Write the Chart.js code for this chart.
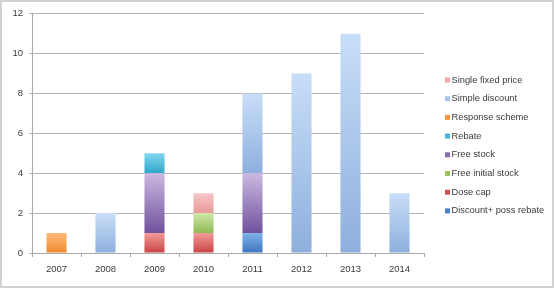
<!DOCTYPE html>
<html>
<head>
<meta charset="utf-8">
<script src="https://cdn.jsdelivr.net/npm/chart.js@4.4.0/dist/chart.umd.min.js"></script>
<style>
  html, body { margin: 0; padding: 0; background: #fff; }
  #wrap { width: 554px; height: 288px; box-sizing: border-box; border: 2px solid #d2d2d2; background: #fff; }
  #mycanvas { display: block; }
</style>
</head>
<body>
<div id="wrap"><canvas id="mycanvas" width="550" height="284"></canvas></div>
<script>
// categories
var years = ['2007', '2008', '2009', '2010', '2011', '2012', '2013', '2014'];

// series values, bottom of stack first
var discountPossRebate = [0, 0, 0, 0, 1, 0, 0, 0];
var doseCap            = [0, 0, 1, 1, 0, 0, 0, 0];
var freeInitialStock   = [0, 0, 0, 1, 0, 0, 0, 0];
var freeStock          = [0, 0, 3, 0, 3, 0, 0, 0];
var rebate             = [0, 0, 1, 0, 0, 0, 0, 0];
var responseScheme     = [1, 0, 0, 0, 0, 0, 0, 0];
var simpleDiscount     = [0, 2, 0, 0, 4, 9, 11, 3];
var singleFixedPrice   = [0, 0, 0, 1, 0, 0, 0, 0];

// y tick labels
var yTicks = [0, 2, 4, 6, 8, 10, 12];

var seriesNames = ['Discount+ poss rebate', 'Dose cap', 'Free initial stock', 'Free stock',
                   'Rebate', 'Response scheme', 'Simple discount', 'Single fixed price'];
var seriesData = [discountPossRebate, doseCap, freeInitialStock, freeStock,
                  rebate, responseScheme, simpleDiscount, singleFixedPrice];
// [top, bottom, legend swatch]
var seriesColors = [
  ['#80b3ea', '#3d74bd', '#4a80c8'],
  ['#f29c9a', '#c94242', '#d65050'],
  ['#d0e7a8', '#8fba52', '#9cc45e'],
  ['#cbb9e2', '#70529c', '#8a6cb4'],
  ['#80d8ee', '#30a6ca', '#42b6d8'],
  ['#ffba7a', '#f08a2e', '#f7953c'],
  ['#c8def8', '#8eafdd', '#a6c4ec'],
  ['#f8c6c6', '#e89898', '#f0a8a8']
];

function gradFor(i) {
  return function(c) {
    var chart = c.chart;
    var ys = chart.scales.y;
    if (c.type !== 'data' || !ys) return seriesColors[i][1];
    var start = 0;
    for (var d = 0; d < c.datasetIndex; d++) start += chart.data.datasets[d].data[c.dataIndex] || 0;
    var v = c.raw || 0;
    var yTop = ys.getPixelForValue(start + v);
    var yBot = ys.getPixelForValue(start);
    if (!isFinite(yTop) || !isFinite(yBot) || yTop === yBot) return seriesColors[i][1];
    var g = chart.ctx.createLinearGradient(0, yTop, 0, yBot);
    g.addColorStop(0, seriesColors[i][0]);
    g.addColorStop(1, seriesColors[i][1]);
    return g;
  };
}

var datasets = [];
for (var i = 0; i < seriesNames.length; i++) {
  datasets.push({
    label: seriesNames[i],
    data: seriesData[i],
    backgroundColor: gradFor(i),
    borderWidth: 0,
    barPercentage: 0.41,
    categoryPercentage: 1.0
  });
}

var FONT = '"Liberation Sans", Arial, sans-serif';

// legend drawn at right, reversed order
var sideLegend = {
  id: 'sideLegend',
  afterDraw: function(chart) {
    var ctx = chart.ctx;
    var n = chart.data.datasets.length;
    ctx.save();
    ctx.font = '9.3px ' + FONT;
    ctx.textBaseline = 'middle';
    ctx.textAlign = 'left';
    for (var k = 0; k < n; k++) {
      var idx = n - 1 - k;
      var y = 78 + k * 18.7;
      ctx.fillStyle = seriesColors[idx][2];
      ctx.fillRect(443, y - 2.5, 5, 5);
      ctx.fillStyle = '#3a3a3a';
      ctx.fillText(chart.data.datasets[idx].label, 449.5, y);
    }
    ctx.restore();
  }
};

var ctx = document.getElementById('mycanvas');
var barGraph = new Chart(ctx, {
  type: 'bar',
  data: { labels: years, datasets: datasets },
  options: {
    responsive: false,
    animation: false,
    layout: { padding: { left: 0, top: 11, right: 128, bottom: 0 } },
    plugins: {
      legend: { display: false },
      tooltip: { enabled: false }
    },
    scales: {
      x: {
        stacked: true,
        grid: { display: true, drawOnChartArea: false, offset: true, tickLength: 4, color: '#a8a8a8' },
        border: { display: true, color: '#a8a8a8' },
        ticks: { color: '#3a3a3a', font: { family: FONT, size: 9.5 }, padding: 7, maxRotation: 0 },
        afterFit: function(s) { s.height = 33; }
      },
      y: {
        stacked: true,
        min: 0,
        max: 12,
        afterBuildTicks: function(s) { s.ticks = yTicks.map(function(v) { return { value: v }; }); },
        grid: { color: '#b4b4b4', tickLength: 3 },
        border: { display: true, color: '#a8a8a8' },
        ticks: { color: '#3a3a3a', font: { family: FONT, size: 9.5 }, padding: 6 },
        afterFit: function(s) { s.width = 30; }
      }
    }
  },
  plugins: [sideLegend]
});
</script>
</body>
</html>
